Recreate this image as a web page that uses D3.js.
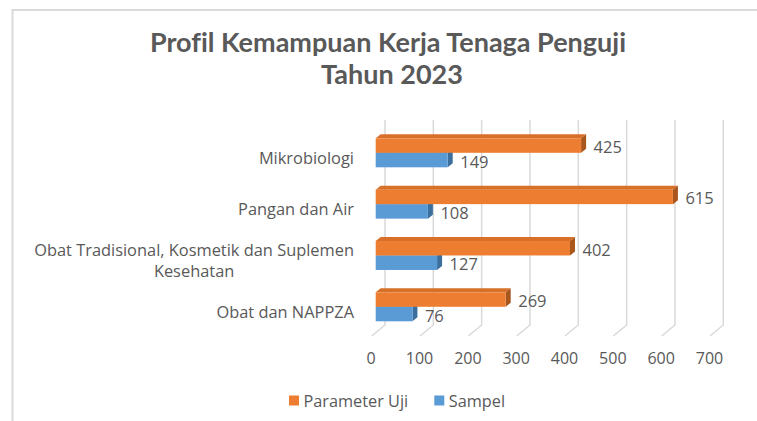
<!DOCTYPE html>
<meta charset="utf-8">
<script src="https://d3js.org/d3.v7.min.js"></script>
<style>
body { margin: 0; background: #fff; }
text { font-family: "Open Sans", sans-serif; fill: #595959; font-variant-ligatures: none; }
.title { font-family: Lato, "Open Sans", sans-serif; font-weight: bold; font-size: 27px; }
</style>
<div id="chart"></div>
<script>
// data
var categories = ["Mikrobiologi", "Pangan dan Air", "Obat Tradisional, Kosmetik dan Suplemen Kesehatan", "Obat dan NAPPZA"];
var parameterUji = [425, 615, 402, 269];
var sampel = [149, 108, 127, 76];
var xTicks = [0, 100, 200, 300, 400, 500, 600, 700];
var seriesNames = ["Parameter Uji", "Sampel"];

var width = 757, height = 421;
var depthX = 5, depthY = 4;          // 3d bar depth
var floorDx = -13.3, floorDy = 11;   // slanted floor part of gridlines

var svg = d3.select("#chart").append("svg")
  .attr("width", width)
  .attr("height", height);

// chart border
svg.append("rect")
  .attr("x", 12.5).attr("y", 10)
  .attr("width", 800).attr("height", 500)
  .attr("fill", "none")
  .attr("stroke", "#d9d9d9")
  .attr("stroke-width", 2);

// title
var title = svg.append("text")
  .attr("class", "title")
  .attr("text-anchor", "middle");
title.append("tspan").attr("x", 388).attr("y", 52).text("Profil Kemampuan Kerja Tenaga Penguji");
title.append("tspan").attr("x", 392).attr("y", 83.5).text("Tahun 2023");

// scales: x is the back wall, bars sit a little in front of it
var x = d3.scaleLinear().domain([0, 700]).range([385, 723.3]);
var frontShift = -9.3;
var y = d3.scaleBand().domain(categories).range([138.3, 321.3]).paddingInner(0.435).paddingOuter(0);
var bh = y.bandwidth() / 2;

// gridlines
var wallTop = 120, wallBottom = 325;
var grid = svg.append("g");
grid.selectAll("path")
  .data(xTicks).enter()
  .append("path")
  .attr("d", function(d) {
    return "M" + x(d) + "," + wallTop + "V" + wallBottom + "L" + (x(d) + floorDx) + "," + (wallBottom + floorDy);
  })
  .attr("fill", "none")
  .attr("stroke", "#d9d9d9")
  .attr("stroke-width", 1.5);

// tick labels
svg.append("g").selectAll("text")
  .data(xTicks).enter()
  .append("text")
  .attr("x", function(d) { return x(d) + floorDx - 0.5; })
  .attr("y", 358)
  .attr("dy", "0.35em")
  .attr("text-anchor", "middle")
  .style("font-size", "16px")
  .text(function(d) { return d; });

// 3d bar helper
function bar3d(g, values, yOff, front, top, side) {
  var gs = g.selectAll("g").data(values).enter().append("g");
  var x0 = function() { return x(0) + frontShift; };
  var x1 = function(d) { return x(d) + frontShift; };
  var yt = function(d, i) { return y(categories[i]) + yOff; };
  gs.append("path")
    .attr("fill", top)
    .attr("d", function(d, i) {
      var t = yt(d, i);
      return "M" + x0() + "," + t + "L" + (x0() + depthX) + "," + (t - depthY) +
        "L" + (x1(d) + depthX) + "," + (t - depthY) + "L" + x1(d) + "," + t + "Z";
    });
  gs.append("path")
    .attr("fill", side)
    .attr("d", function(d, i) {
      var t = yt(d, i);
      return "M" + x1(d) + "," + t + "L" + (x1(d) + depthX) + "," + (t - depthY) +
        "L" + (x1(d) + depthX) + "," + (t + bh - depthY) + "L" + x1(d) + "," + (t + bh) + "Z";
    });
  gs.append("rect")
    .attr("fill", front)
    .attr("x", x0())
    .attr("y", function(d, i) { return yt(d, i); })
    .attr("width", function(d) { return x1(d) - x0(); })
    .attr("height", bh);
  gs.append("text")
    .attr("x", function(d) { return x1(d) + 12.5; })
    .attr("y", function(d, i) { return yt(d, i) + bh / 2 + 1.8; })
    .attr("dy", "0.35em")
    .style("font-size", "16.5px")
    .text(function(d) { return d; });
}

// blue first so the orange front covers its top face
bar3d(svg.append("g"), sampel, bh, "#5b9bd5", "#4f8cc4", "#3d6f9e");
bar3d(svg.append("g"), parameterUji, 0, "#ed7d31", "#d8702a", "#a9561d");

// category labels, wrapped and centred as a block, right aligned
var labelRight = 354;
var labels = svg.append("g");
categories.forEach(function(c) {
  var t = labels.append("text")
    .attr("text-anchor", "middle")
    .style("font-size", "16.4px");
  var words = c.split(" "), lines = [], line = [];
  words.forEach(function(w) {
    var test = line.concat(w).join(" ");
    t.text(test);
    if (t.node().getComputedTextLength() > 335 && line.length) {
      lines.push(line.join(" "));
      line = [w];
    } else {
      line.push(w);
    }
  });
  lines.push(line.join(" "));
  t.text(null);
  var maxW = 0;
  lines.forEach(function(l) {
    var ts = t.append("tspan").text(l);
    maxW = Math.max(maxW, ts.node().getComputedTextLength());
  });
  var cy = y(c) + bh + 5.5;
  var lh = 20.7;
  t.selectAll("tspan")
    .attr("x", labelRight - maxW / 2)
    .attr("y", function(d, i) { return cy + (i - (lines.length - 1) / 2) * lh; })
    .attr("dy", "0.35em");
});

// legend
var legendColors = ["#ed7d31", "#5b9bd5"];
var legendX = [289, 434.3];
var legend = svg.append("g");
seriesNames.forEach(function(s, i) {
  legend.append("rect")
    .attr("x", legendX[i]).attr("y", 395.5)
    .attr("width", 10).attr("height", 10)
    .attr("fill", legendColors[i]);
  legend.append("text")
    .attr("x", legendX[i] + 14.5)
    .attr("y", 401)
    .attr("dy", "0.35em")
    .style("font-size", "16.3px")
    .text(s);
});
</script>
